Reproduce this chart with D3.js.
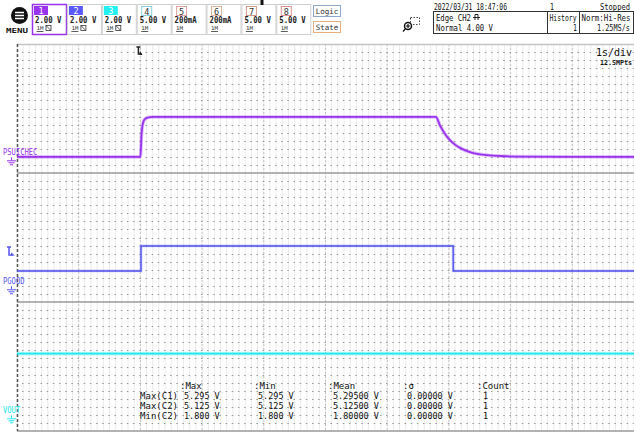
<!DOCTYPE html>
<html>
<head>
<meta charset="utf-8">
<script src="https://cdn.jsdelivr.net/npm/d3@7"></script>
<style>
  html, body { margin: 0; padding: 0; background: #fff; }
  svg { display: block; }
  text { font-family: "DejaVu Sans Mono", monospace; }
</style>
</head>
<body>
<div id="chart"></div>
<script>
// time base: 1 s/div, 10 div, trigger 2 div from left
const timeDomain = [-2, 8];
// each zone shows 8 div x 2 V, ground a little above the bottom
const voltDomain = [-1.7, 14.3];

// CH1 PSUICHEC (V)
const ch1Time = [-2, 0, 0.018, 0.042, 0.075, 0.123, 0.19, 4.79, 4.856, 4.937, 5.018, 5.099, 5.18, 5.342, 5.504, 5.666, 5.828, 6.15, 8];
const ch1Volt = [0.3, 0.3, 3.0, 4.5, 5.0, 5.18, 5.25, 5.25, 4.19, 3.15, 2.38, 1.82, 1.42, 0.9, 0.62, 0.48, 0.41, 0.33, 0.3];
// CH2 PGOOD
const ch2Time = [-2, 0.01, 0.01, 5.07, 5.07, 8];
const ch2Volt = [2.15, 2.15, 5.25, 5.25, 2.15, 2.15];
// CH3 VOUT
const ch3Time = [-2, 8];
const ch3Volt = [7.9, 7.9];

const traceNames = ["PSUICHEC", "PGOOD", "VOUT"];
const traceColors = ["#9933ee", "#5656f0", "#22e8f0"];
const trigLevel = 4.0;

// channel strip
const chanNames = ["1", "2", "3", "4", "5", "6", "7", "8"];
const chanScales = ["2.00 V", "2.00 V", "2.00 V", "5.00 V", "200mA", "200mA", "5.00 V", "5.00 V"];
const chanColors = ["#9933ee", "#5a5aff", "#22f0f0", "#88d0dd", "#e0a0a0", "#e0b49a", "#d09a8a", "#e09090"];
const chanOn = [true, true, true, false, false, false, false, false];

// measurement table
const measHeads = [":Max", ":Min", ":Mean", ":\u03c3", ":Count"];
const measRows = ["Max(C1)", "Max(C2)", "Min(C2)"];
const measMax = ["5.295 V", "5.125 V", "1.800 V"];
const measMin = ["5.295 V", "5.125 V", "1.800 V"];
const measMean = ["5.29500 V", "5.12500 V", "1.80000 V"];
const measSigma = ["0.00000 V", "0.00000 V", "0.00000 V"];
const measCount = ["1", "1", "1"];

const W = 634, H = 432;
const plotL = 17, plotR = 634, plotT = 44, zoneH = 129;

const svg = d3.select("#chart").append("svg").attr("width", W).attr("height", H);

const x = d3.scaleLinear().domain(timeDomain).range([plotL, plotR]);
const zones = [0, 1, 2].map(i => plotT + i * zoneH);
const yFor = i => d3.scaleLinear().domain(voltDomain).range([zones[i] + zoneH, zones[i]]);

// ---- grid
const grid = svg.append("g");
grid.selectAll(".vmin").data(d3.range(0, 101)).enter().append("line")
  .attr("x1", d => x(timeDomain[0] + d * 0.1)).attr("x2", d => x(timeDomain[0] + d * 0.1))
  .attr("y1", plotT).attr("y2", plotT + 3 * zoneH)
  .attr("stroke", "#ebebeb").attr("stroke-width", 1);
grid.selectAll(".vmaj").data(d3.range(1, 10)).enter().append("line")
  .attr("x1", d => x(timeDomain[0] + d)).attr("x2", d => x(timeDomain[0] + d))
  .attr("y1", plotT).attr("y2", plotT + 3 * zoneH)
  .attr("stroke", "#c4c4c4").attr("stroke-dasharray", "2,2");
zones.forEach(z0 => {
  grid.selectAll(null).data(d3.range(1, 16)).enter().append("line")
    .attr("x1", plotL).attr("x2", plotR)
    .attr("y1", d => Math.round(z0 + d * zoneH / 16) + 0.5)
    .attr("y2", d => Math.round(z0 + d * zoneH / 16) + 0.5)
    .attr("stroke", "#999").attr("stroke-dasharray", "1.5,4.67")
    .attr("stroke-dashoffset", -5);
});
grid.append("line").attr("x1", plotL).attr("x2", plotR).attr("y1", plotT + 0.5).attr("y2", plotT + 0.5)
  .attr("stroke", "#c4c4c4").attr("stroke-width", 1.5);
[1, 2, 3].forEach(i => {
  grid.append("line").attr("x1", plotL).attr("x2", plotR)
    .attr("y1", plotT + i * zoneH).attr("y2", plotT + i * zoneH)
    .attr("stroke", "#9a9a9a").attr("stroke-width", 1.5);
});
grid.append("line").attr("x1", plotL + 0.5).attr("x2", plotL + 0.5).attr("y1", plotT).attr("y2", plotT + 3 * zoneH)
  .attr("stroke", "#555").attr("stroke-width", 1.5).attr("stroke-dasharray", "3,2");

// ---- traces
const traces = [[ch1Time, ch1Volt], [ch2Time, ch2Volt], [ch3Time, ch3Volt]];
traces.forEach(([ts, vs], i) => {
  const y = yFor(i);
  const pts = ts.map((t, k) => [t, vs[k]]);
  const line = d3.line().x(d => x(d[0])).y(d => y(d[1]))
    .curve(i === 0 ? d3.curveMonotoneX : d3.curveLinear);
  svg.append("path").attr("d", line(pts)).attr("fill", "none")
    .attr("stroke", traceColors[i]).attr("stroke-opacity", 0.3).attr("stroke-width", i === 1 ? 2.8 : 3.6);
  svg.append("path").attr("d", line(pts)).attr("fill", "none")
    .attr("stroke", traceColors[i]).attr("stroke-width", i === 1 ? 1.4 : 1.8);

  // label + ground mark
  const g0 = y(0);
  svg.append("text").attr("x", 3).attr("y", g0 - 4).text(traceNames[i])
    .attr("font-size", 8).attr("fill", traceColors[i])
    .attr("textLength", traceNames[i].length * 4.3).attr("lengthAdjust", "spacingAndGlyphs");
  const gnd = svg.append("g").attr("stroke", traceColors[i]).attr("stroke-width", 1);
  gnd.append("line").attr("x1", 11.5).attr("x2", 11.5).attr("y1", g0 - 2).attr("y2", g0 + 1);
  gnd.append("line").attr("x1", 7).attr("x2", 16).attr("y1", g0 + 1.5).attr("y2", g0 + 1.5);
  gnd.append("line").attr("x1", 8.5).attr("x2", 14.5).attr("y1", g0 + 3.5).attr("y2", g0 + 3.5);
  gnd.append("line").attr("x1", 10).attr("x2", 13).attr("y1", g0 + 5.5).attr("y2", g0 + 5.5);
});

// trigger level mark on CH2
const yT = yFor(1)(trigLevel) - 4;
svg.append("path")
  .attr("d", `M7,${yT - 5}H11M9,${yT - 5}V${yT + 3}H13`)
  .attr("fill", "none").attr("stroke", traceColors[1]).attr("stroke-width", 1.5);
svg.append("path").attr("d", `M11,${yT + 0.5}L15,${yT + 3.5}L11,${yT + 3.5}Z`).attr("fill", traceColors[1]);

// trigger position mark
const xT = x(0);
svg.append("path")
  .attr("d", `M${xT - 4},${plotT + 3}H${xT}M${xT - 2},${plotT + 3}V${plotT + 10}H${xT + 1}`)
  .attr("fill", "none").attr("stroke", "#222").attr("stroke-width", 1.5);
svg.append("path").attr("d", `M${xT},${plotT + 7}L${xT + 2},${plotT + 11}L${xT - 1},${plotT + 11}Z`).attr("fill", "#222");

svg.append("text").attr("x", 632).attr("y", 56).attr("text-anchor", "end").text("1s/div")
  .attr("font-family", "Liberation Sans, sans-serif").attr("font-size", 10).attr("fill", "#111");
svg.append("text").attr("x", 632).attr("y", 65).attr("text-anchor", "end").text("12.5MPts")
  .attr("font-size", 7).attr("font-weight", "bold").attr("fill", "#111")
  .attr("textLength", 32).attr("lengthAdjust", "spacingAndGlyphs");

// ---- measurement table
const colX = [180, 254, 328, 403, 477];
const valX = [184, 258, 333, 407, 483];
const colVals = [measMax, measMin, measMean, measSigma, measCount];
const meas = svg.append("g").attr("fill", "#111");
measHeads.forEach((h, j) => {
  meas.append("text").attr("x", colX[j]).attr("y", 389).text(h)
    .attr("font-family", "Liberation Sans, sans-serif").attr("font-size", 9);
});
measRows.forEach((r, k) => {
  const yy = 399 + k * 10;
  meas.append("text").attr("x", 178).attr("y", yy).attr("text-anchor", "end").text(r)
    .attr("font-family", "Liberation Sans, sans-serif").attr("font-size", 9);
  colVals.forEach((vals, j) => {
    meas.append("text").attr("x", valX[j]).attr("y", yy).text(vals[k])
      .attr("font-size", 8.5).attr("textLength", vals[k].length * 5.1).attr("lengthAdjust", "spacingAndGlyphs");
  });
});

// ---- header strip
const head = svg.append("g");
// menu button
head.append("circle").attr("cx", 19.5).attr("cy", 15.5).attr("r", 8.5).attr("fill", "#111");
[-3, 0, 3].forEach(d => head.append("line").attr("x1", 15).attr("x2", 24)
  .attr("y1", 15.5 + d).attr("y2", 15.5 + d).attr("stroke", "#fff").attr("stroke-width", 1.5));
head.append("text").attr("x", 17).attr("y", 33).attr("text-anchor", "middle").text("MENU")
  .attr("font-family", "Liberation Sans, sans-serif").attr("font-size", 7).attr("font-weight", "bold")
  .attr("textLength", 22).attr("lengthAdjust", "spacingAndGlyphs").attr("fill", "#111");

chanNames.forEach((n, i) => {
  const bx = 32.5 + i * 34.9;
  const g = head.append("g");
  g.append("rect").attr("x", bx).attr("y", 4.5).attr("width", 34).attr("height", 30)
    .attr("fill", "#fff").attr("stroke", i === 0 ? chanColors[0] : "#cfcfcf").attr("stroke-width", i === 0 ? 1.5 : 1);
  if (chanOn[i]) {
    g.append("rect").attr("x", bx + 1.5).attr("y", 6).attr("width", 14).attr("height", 9).attr("fill", chanColors[i]);
    g.append("text").attr("x", bx + 6).attr("y", 14).text(n).attr("font-size", 8.5).attr("fill", "#fff");
  } else {
    g.append("rect").attr("x", bx + 4.5).attr("y", 6.5).attr("width", 10).attr("height", 9)
      .attr("fill", "#fff").attr("stroke", chanColors[i]);
    g.append("text").attr("x", bx + 7).attr("y", 14.5).text(n).attr("font-size", 8.5).attr("fill", "#333");
  }
  g.append("text").attr("x", bx + 2.5).attr("y", 23).text(chanScales[i])
    .attr("font-size", 8).attr("font-weight", "bold").attr("fill", "#222")
    .attr("textLength", chanScales[i].length * 4.4).attr("lengthAdjust", "spacingAndGlyphs");
  g.append("text").attr("x", bx + 4).attr("y", 30).text("1M").attr("font-size", 5).attr("fill", "#333")
    .attr("textLength", 7).attr("lengthAdjust", "spacingAndGlyphs");
  g.append("line").attr("x1", bx + 4).attr("x2", bx + 11).attr("y1", 31.5).attr("y2", 31.5).attr("stroke", "#333").attr("stroke-width", 0.8);
  if (chanOn[i]) {
    g.append("rect").attr("x", bx + 13.5).attr("y", 25.5).attr("width", 5).attr("height", 5)
      .attr("fill", "none").attr("stroke", "#333").attr("stroke-width", 0.8);
    g.append("path").attr("d", `M${bx + 14},26L${bx + 18},30`).attr("stroke", "#333").attr("stroke-width", 0.8);
  }
});

// logic / state buttons
[["Logic", 5.5, "#8fa8c8"], ["State", 21.5, "#e8b080"]].forEach(([t, yy, c]) => {
  head.append("rect").attr("x", 313.5).attr("y", yy).attr("width", 27).attr("height", 11)
    .attr("fill", "#fff").attr("stroke", c);
  head.append("text").attr("x", 327).attr("y", yy + 8.5).attr("text-anchor", "middle").text(t)
    .attr("font-family", "Liberation Sans, sans-serif").attr("font-size", 7.5).attr("fill", "#333");
});

// zoom icon
head.append("rect").attr("x", 410.5).attr("y", 17.5).attr("width", 9).attr("height", 7)
  .attr("fill", "none").attr("stroke", "#444").attr("stroke-dasharray", "1.5,1.5");
head.append("circle").attr("cx", 408).attr("cy", 26).attr("r", 3.5).attr("fill", "#fff").attr("stroke", "#111").attr("stroke-width", 1.5);
head.append("path").attr("d", "M406,26H410M408,24V28M405.5,28.5L403,31.5").attr("stroke", "#111").attr("stroke-width", 1.2);

// acquisition info
const info = head.append("g").attr("fill", "#111");
const infoText = (tx, xx, yy, len, anchor) => info.append("text").attr("x", xx).attr("y", yy).text(tx)
  .attr("font-size", 8.5).attr("text-anchor", anchor || "start")
  .attr("textLength", len).attr("lengthAdjust", "spacingAndGlyphs");
infoText("2022/03/31 18:47:06", 434, 10, 73);
infoText("1", 550, 10, 4);
infoText("Stopped", 630, 10, 30, "end");
head.append("rect").attr("x", 433.5).attr("y", 11.5).attr("width", 200).attr("height", 22)
  .attr("fill", "none").attr("stroke", "#333");
head.append("line").attr("x1", 547.5).attr("x2", 547.5).attr("y1", 11.5).attr("y2", 33.5).attr("stroke", "#333");
head.append("line").attr("x1", 579.5).attr("x2", 579.5).attr("y1", 11.5).attr("y2", 33.5).attr("stroke", "#333");
infoText("Edge CH2", 436, 20.5, 35);
head.append("path").attr("d", "M475,20V14.5H478V20M473,17.5H480").attr("fill", "none").attr("stroke", "#111").attr("stroke-width", 0.9);
infoText("Normal 4.00 V", 436, 31, 57);
infoText("History", 549.5, 20.5, 27);
infoText("1", 577, 31, 4, "end");
infoText("Norm:Hi-Res", 581.5, 20.5, 49);
infoText("1.25MS/s", 630, 31, 33, "end");

// top marker
head.append("rect").attr("x", 260.5).attr("y", 0).attr("width", 3).attr("height", 5).attr("fill", "#111");
</script>
</body>
</html>
